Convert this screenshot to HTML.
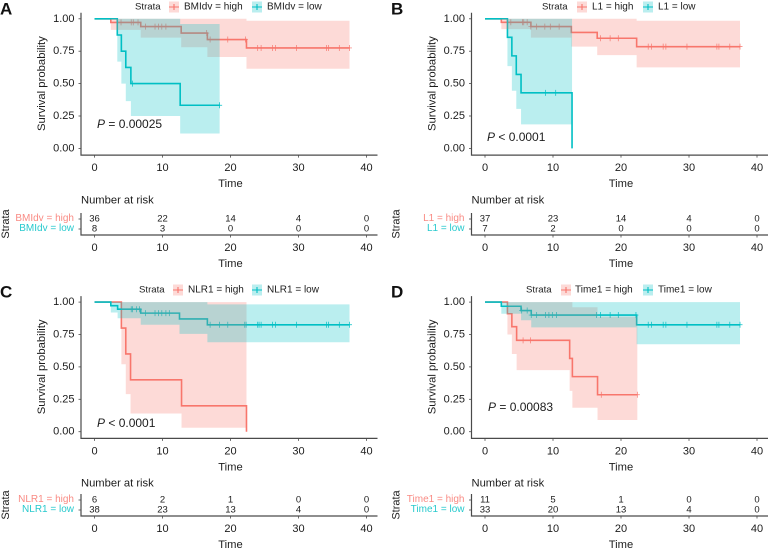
<!DOCTYPE html>
<html lang="en">
<head>
<meta charset="utf-8">
<title>Kaplan-Meier survival curves</title>
<style>
html,body{margin:0;padding:0;background:#fff;}
svg{display:block;font-family:"Liberation Sans",Arial,sans-serif;}
text{fill:#1c1c1c;dominant-baseline:central;}
</style>
</head>
<body>
<svg id="figure" width="768" height="551" viewBox="0 0 768 551" xmlns="http://www.w3.org/2000/svg"></svg>
<script>
// Shared axis labels
const xTickValues = [0, 10, 20, 30, 40];
const yTickValues = [0, 0.25, 0.5, 0.75, 1];
const yTickLabels = ['0.00', '0.25', '0.50', '0.75', '1.00'];

// Panel A
const aHighTimes = [0, 2.4, 6.8, 12.75, 16.6, 22.35];
const aHighSurv = [1, 0.972, 0.94, 0.89, 0.84, 0.775];
const aHighLower = [1, 0.915, 0.855, 0.78, 0.705, 0.615];
const aHighUpper = [1, 1, 1, 1, 1, 0.985];
const aHighCensor = [3.9, 5.4, 5.7, 6.4, 7.5, 8.9, 9.4, 9.9, 10.5, 16.5, 17, 19.6, 22.2, 24, 24.5, 26.2, 26.6, 29.7, 34.1, 34.4, 36, 37.5];
const aHighEnd = 37.5;
const aLowTimes = [0, 3.35, 3.95, 4.6, 5.35, 12.6];
const aLowSurv = [1, 0.875, 0.75, 0.625, 0.5, 0.333];
const aLowLower = [1, 0.67, 0.5, 0.365, 0.25, 0.115];
const aLowUpper = [1, 1, 1, 1, 1, 0.96];
const aLowCensor = [5.6, 18.4];
const aLowEnd = 18.4;
const aRiskHigh = [36, 22, 14, 4, 0];
const aRiskLow = [8, 3, 0, 0, 0];

// Panel B
const bHighTimes = [0, 2.4, 6.75, 12.7, 16.5, 22.3];
const bHighSurv = [1, 0.973, 0.94, 0.895, 0.85, 0.785];
const bHighLower = [1, 0.92, 0.855, 0.785, 0.72, 0.625];
const bHighUpper = [1, 1, 1, 1, 1, 0.985];
const bHighCensor = [3.8, 5.5, 5.7, 6.2, 6.75, 7.6, 8.8, 9.6, 10.9, 17, 18.4, 19.6, 24, 24.5, 26.2, 26.6, 29.7, 34.1, 34.4, 36, 37.5];
const bHighEnd = 37.5;
const bLowTimes = [0, 3.3, 3.95, 4.6, 5.3, 12.8];
const bLowSurv = [1, 0.857, 0.714, 0.571, 0.4286, 0];
const bLowLower = [1, 0.635, 0.445, 0.305, 0.185, null];
const bLowUpper = [1, 1, 1, 1, 1, null];
const bLowCensor = [8.9, 10.4];
const bLowEnd = 12.8;
const bRiskHigh = [37, 23, 14, 4, 0];
const bRiskLow = [7, 2, 0, 0, 0];

// Panel C
const cHighTimes = [0, 3.95, 4.6, 5.3, 12.8, 22.35];
const cHighSurv = [1, 0.8, 0.6, 0.4, 0.2, 0];
const cHighLower = [1, 0.52, 0.29, 0.14, 0.03, null];
const cHighUpper = [1, 1, 1, 1, 1, null];
const cHighCensor = [];
const cHighEnd = 22.35;
const cLowTimes = [0, 2.4, 3.4, 6.8, 12.5, 16.6];
const cLowSurv = [1, 0.972, 0.945, 0.915, 0.87, 0.825];
const cLowLower = [1, 0.92, 0.875, 0.825, 0.755, 0.69];
const cLowUpper = [1, 1, 1, 1, 1, 0.982];
const cLowCensor = [5.4, 5.6, 6.2, 6.6, 7.5, 8.9, 9.4, 9.9, 10.5, 11, 17, 18.4, 19.6, 22.1, 22.3, 24, 24.2, 24.5, 26.2, 26.6, 29.7, 34.1, 34.4, 36, 37.5];
const cLowEnd = 37.5;
const cRiskHigh = [6, 2, 1, 0, 0];
const cRiskLow = [38, 23, 13, 4, 0];

// Panel D
const dHighTimes = [0, 3.3, 3.95, 4.65, 12.45, 12.85, 16.55];
const dHighSurv = [1, 0.91, 0.81, 0.705, 0.565, 0.425, 0.285];
const dHighLower = [1, 0.75, 0.6, 0.475, 0.315, 0.185, 0.09];
const dHighUpper = [1, 1, 1, 1, 1, 0.96, 0.887];
const dHighCensor = [5.6, 6.7, 17.1, 22.4];
const dHighEnd = 22.4;
const dLowTimes = [0, 2.4, 5.3, 6.8, 22.3];
const dLowSurv = [1, 0.968, 0.935, 0.9, 0.825];
const dLowLower = [1, 0.91, 0.86, 0.805, 0.675];
const dLowUpper = [1, 1, 1, 1, 1];
const dLowCensor = [5.4, 6.2, 6.8, 7.6, 8.9, 9.4, 9.9, 10.5, 16.4, 17, 18.4, 19.6, 22.2, 24, 24.5, 26.2, 26.6, 29.7, 34.1, 34.4, 36, 37.5];
const dLowEnd = 37.5;
const dRiskHigh = [11, 5, 1, 0, 0];
const dRiskLow = [33, 20, 13, 4, 0];

const RED = '#F8766D';
const TEAL = '#00BFC4';
const AXIS = '#4a4a4a';
const svg = document.getElementById('figure');

function make(parent, tag, attrs, content) {
  const node = document.createElementNS('http://www.w3.org/2000/svg', tag);
  for (const k in attrs) node.setAttribute(k, attrs[k]);
  if (content !== undefined) node.textContent = content;
  parent.appendChild(node);
  return node;
}

function drawBand(g, xScale, yScale, c, color) {
  let top = '', bottom = '';
  for (let i = 0; i < c.times.length; i++) {
    if (c.lower[i] === null) continue;
    const nextT = i + 1 < c.times.length ? c.times[i + 1] : c.end;
    const x1 = xScale(c.times[i]).toFixed(2);
    const x2 = xScale(nextT).toFixed(2);
    top += (top ? 'L' : 'M') + x1 + ' ' + yScale(c.upper[i]).toFixed(2) + 'L' + x2 + ' ' + yScale(c.upper[i]).toFixed(2);
    bottom = 'L' + x2 + ' ' + yScale(c.lower[i]).toFixed(2) + 'L' + x1 + ' ' + yScale(c.lower[i]).toFixed(2) + bottom;
  }
  const el = make(g, 'path', { d: top + bottom + 'Z', fill: color, 'fill-opacity': 0.27 });
  
  
}

function survAt(c, t) {
  let s = c.surv[0];
  for (let i = 0; i < c.times.length; i++) if (c.times[i] <= t) s = c.surv[i];
  return s;
}

function drawCurve(g, xScale, yScale, c, color) {
  let d = 'M' + xScale(c.times[0]).toFixed(2) + ' ' + yScale(c.surv[0]).toFixed(2);
  for (let i = 1; i < c.times.length; i++) {
    d += 'H' + xScale(c.times[i]).toFixed(2) + 'V' + yScale(c.surv[i]).toFixed(2);
  }
  d += 'H' + xScale(c.end).toFixed(2);
  const el = make(g, 'path', { d: d, fill: 'none', stroke: color, 'stroke-width': 1.6 });
  
  
  c.censor.forEach(function (t) {
    const cx = xScale(t), cy = yScale(survAt(c, t));
    const mark = make(g, 'path', {
      d: 'M' + cx.toFixed(2) + ' ' + (cy - 3).toFixed(2) + 'V' + (cy + 3).toFixed(2) + 'M' + (cx - 2.5).toFixed(2) + ' ' + cy.toFixed(2) + 'H' + (cx + 2.5).toFixed(2),
      stroke: color, 'stroke-width': 0.7, fill: 'none'
    });
    
    
  });
}

function drawLegendKey(g, x, y, color) {
  const box = make(g, 'rect', { x: x, y: y - 5.5, width: 10, height: 11, fill: color, 'fill-opacity': 0.27 });
  
  
  const line = make(g, 'path', { d: 'M' + x + ' ' + y + 'H' + (x + 10) + 'M' + (x + 5) + ' ' + (y - 3) + 'V' + (y + 3), stroke: color, 'stroke-width': 1.1, fill: 'none' });
  
  
}

function drawPanel(p) {
  const g = make(svg, 'g', {});
  
  

  const xScale = function (t) { return p.x0 + t * 6.8; };
  const yScale = function (s) { return p.y0 - s * 129.6; };
  const riskRows = [p.riskY, p.riskY + 10];
  const axisL = p.x0 - 13.5;
  const axisR = xScale(40) + 11;
  const axisB = p.y0 + 6.7;
  const riskAxisB = p.riskY + 16;

  const letter = make(g, 'text', { x: p.letterX, y: p.letterY, 'font-size': 17, 'font-weight': 'bold', style: 'fill:#111' }, p.letter);
  
  

  // Curves sit beneath the translucent bands, which mutes them in the overlap
  drawCurve(g, xScale, yScale, p.high, RED);
  drawCurve(g, xScale, yScale, p.low, TEAL);
  drawBand(g, xScale, yScale, p.high, RED);
  drawBand(g, xScale, yScale, p.low, TEAL);

  // Main axes
  const axes = make(g, 'path', { d: 'M' + axisL + ' ' + (yScale(1) - 6) + 'V' + axisB + 'H' + axisR, fill: 'none', stroke: AXIS, 'stroke-width': 1.2 });
  
  

  yTickValues.forEach(function (v, i) {
    const tick = make(g, 'line', { x1: axisL - 2.5, x2: axisL, y1: yScale(v), y2: yScale(v), stroke: AXIS, 'stroke-width': 0.8 });
    
    
    const lab = make(g, 'text', { x: axisL - 6.5, y: yScale(v), 'text-anchor': 'end', 'font-size': 11 }, yTickLabels[i]);
    
    
  });

  xTickValues.forEach(function (v) {
    const tick = make(g, 'line', { x1: xScale(v), x2: xScale(v), y1: axisB, y2: axisB + 2.5, stroke: AXIS, 'stroke-width': 0.8 });
    
    
    const lab = make(g, 'text', { x: xScale(v), y: axisB + 13, 'text-anchor': 'middle', 'font-size': 11 }, String(v));
    
    
  });

  const yTitle = make(g, 'text', { x: 0, y: 0, 'text-anchor': 'middle', 'font-size': 11.3, transform: 'translate(' + (axisL - 39) + ' ' + (yScale(0.5)) + ') rotate(-90)' }, 'Survival probability');
  
  

  const xTitle = make(g, 'text', { x: xScale(20), y: axisB + 29, 'text-anchor': 'middle', 'font-size': 11.2 }, 'Time');
  
  

  // P value
  const pWrap = make(g, 'text', { x: p.pX, y: p.pY, 'font-size': 12 });
  
  
  make(pWrap, 'tspan', { 'font-style': 'italic' }, 'P');
  make(pWrap, 'tspan', {}, ' ' + p.pText);

  // Legend
  const ly = p.legendY;
  const strata = make(g, 'text', { x: p.legend[0], y: ly, 'font-size': 9.6 }, 'Strata');
  
  
  drawLegendKey(g, p.legend[1], ly, RED);
  const hi = make(g, 'text', { x: p.legend[2], y: ly, 'font-size': 10 }, p.name + ' = high');
  
  
  drawLegendKey(g, p.legend[3], ly, TEAL);
  const lo = make(g, 'text', { x: p.legend[4], y: ly, 'font-size': 10 }, p.name + ' = low');
  
  

  // Risk table
  const riskTitle = make(g, 'text', { x: axisL, y: p.y0 + 52, 'font-size': 11.2 }, 'Number at risk');
  
  

  const riskAxes = make(g, 'path', { d: 'M' + axisL + ' ' + (p.riskY - 6) + 'V' + riskAxisB + 'H' + axisR, fill: 'none', stroke: AXIS, 'stroke-width': 1.2 });
  
  

  [[p.name + ' = high', RED, p.riskHigh], [p.name + ' = low', TEAL, p.riskLow]].forEach(function (row, r) {
    const rowTick = make(g, 'line', { x1: axisL - 2.5, x2: axisL, y1: riskRows[r], y2: riskRows[r], stroke: AXIS, 'stroke-width': 0.8 });
    
    
    const rowLab = make(g, 'text', { x: axisL - 7, y: riskRows[r] - 0.5, 'text-anchor': 'end', 'font-size': 10, style: 'fill:' + row[1] + ';fill-opacity:.85' }, row[0]);
    
    
    row[2].forEach(function (n, i) {
      const count = make(g, 'text', { x: xScale(xTickValues[i]), y: riskRows[r], 'text-anchor': 'middle', 'font-size': 9.5 }, String(n));
      
      
    });
  });

  xTickValues.forEach(function (v) {
    const tick = make(g, 'line', { x1: xScale(v), x2: xScale(v), y1: riskAxisB, y2: riskAxisB + 2.5, stroke: AXIS, 'stroke-width': 0.8 });
    
    
    const lab = make(g, 'text', { x: xScale(v), y: riskAxisB + 13, 'text-anchor': 'middle', 'font-size': 11 }, String(v));
    
    
  });

  const riskY = make(g, 'text', { x: 0, y: 0, 'text-anchor': 'middle', 'font-size': 11, transform: 'translate(' + (axisL - 75) + ' ' + (p.riskY + 5) + ') rotate(-90)' }, 'Strata');
  
  

  const riskX = make(g, 'text', { x: xScale(20), y: riskAxisB + 29, 'text-anchor': 'middle', 'font-size': 11.2 }, 'Time');
  
  
}

drawPanel({
  letter: 'A', letterX: 0, letterY: 9, name: 'BMIdv', x0: 94.5, y0: 148.4, riskY: 219, legendY: 7,
  legend: [135, 169, 184, 252, 267], pX: 97, pY: 124, pText: '= 0.00025',
  high: { times: aHighTimes, surv: aHighSurv, lower: aHighLower, upper: aHighUpper, censor: aHighCensor, end: aHighEnd },
  low: { times: aLowTimes, surv: aLowSurv, lower: aLowLower, upper: aLowUpper, censor: aLowCensor, end: aLowEnd },
  riskHigh: aRiskHigh, riskLow: aRiskLow
});
drawPanel({
  letter: 'B', letterX: 391, letterY: 9, name: 'L1', x0: 485, y0: 148.4, riskY: 219, legendY: 7,
  legend: [542, 577, 592, 643, 658], pX: 487, pY: 137, pText: '< 0.0001',
  high: { times: bHighTimes, surv: bHighSurv, lower: bHighLower, upper: bHighUpper, censor: bHighCensor, end: bHighEnd },
  low: { times: bLowTimes, surv: bLowSurv, lower: bLowLower, upper: bLowUpper, censor: bLowCensor, end: bLowEnd },
  riskHigh: bRiskHigh, riskLow: bRiskLow
});
drawPanel({
  letter: 'C', letterX: 0, letterY: 292, name: 'NLR1', x0: 94.5, y0: 431.7, riskY: 500, legendY: 290,
  legend: [139, 173, 188, 252, 267], pX: 97, pY: 423, pText: '< 0.0001',
  high: { times: cHighTimes, surv: cHighSurv, lower: cHighLower, upper: cHighUpper, censor: cHighCensor, end: cHighEnd },
  low: { times: cLowTimes, surv: cLowSurv, lower: cLowLower, upper: cLowUpper, censor: cLowCensor, end: cLowEnd },
  riskHigh: cRiskHigh, riskLow: cRiskLow
});
drawPanel({
  letter: 'D', letterX: 391, letterY: 292, name: 'Time1', x0: 485, y0: 431.7, riskY: 500, legendY: 290,
  legend: [526, 561, 575, 643, 658], pX: 488, pY: 407, pText: '= 0.00083',
  high: { times: dHighTimes, surv: dHighSurv, lower: dHighLower, upper: dHighUpper, censor: dHighCensor, end: dHighEnd },
  low: { times: dLowTimes, surv: dLowSurv, lower: dLowLower, upper: dLowUpper, censor: dLowCensor, end: dLowEnd },
  riskHigh: dRiskHigh, riskLow: dRiskLow
});
</script>
</body>
</html>
